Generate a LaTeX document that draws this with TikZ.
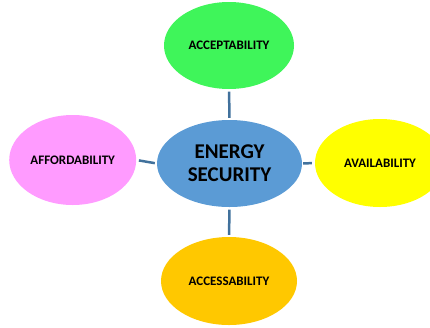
\documentclass[tikz,border=0pt]{standalone}
\usepackage{fontspec}
\setmainfont{Carlito}
\usetikzlibrary{shapes.geometric}
\definecolor{hubblue}{HTML}{5B9BD5}
\definecolor{leafgreen}{HTML}{3FF55A}
\definecolor{leafpink}{HTML}{FF9BFF}
\definecolor{leafyellow}{HTML}{FFFF00}
\definecolor{leaforange}{HTML}{FFC800}
\definecolor{linkblue}{HTML}{41719C}
\tikzset{
  bubble/.style={ellipse, inner sep=0pt, draw=none, text=black,
    font=\fontsize{13}{15}\selectfont\bfseries, align=center},
  link/.style={draw=linkblue, line width=2.5pt}
}
\begin{document}
\begin{tikzpicture}[x=1pt,y=-1pt]
  \useasboundingbox (0,0) rectangle (430,327);
  % central concept
  \node[bubble, fill=hubblue, minimum width=145pt, minimum height=87pt,
        font=\fontsize{21}{23}\selectfont\bfseries] (hub) at (229.5,163.5) {ENERGY\\SECURITY};
  % the four dimensions around it
  \node[bubble, fill=leafgreen, minimum width=130pt, minimum height=87pt] (acc) at (229,45.5) {ACCEPTABILITY};
  \node[bubble, fill=leafpink, minimum width=127pt, minimum height=90pt] (aff) at (72.7,160) {AFFORDABILITY};
  \node[bubble, fill=leafyellow, minimum width=130pt, minimum height=88pt] (ava) at (380,163) {AVAILABILITY};
  \node[bubble, fill=leaforange, minimum width=136pt, minimum height=88pt] (acs) at (229,281) {ACCESSABILITY};
  % short connectors, leaving small gaps at each end
  \draw[link, shorten <=2.5pt, shorten >=2pt] (acc) -- (hub);
  \draw[link, shorten <=2.5pt, shorten >=2pt] (hub) -- (acs);
  \draw[link, shorten <=2.5pt, shorten >=2pt] (aff.east) -- (hub.west);
  \draw[link, shorten <=1pt, shorten >=3pt] (hub.east) -- (ava.west);
\end{tikzpicture}
\end{document}
